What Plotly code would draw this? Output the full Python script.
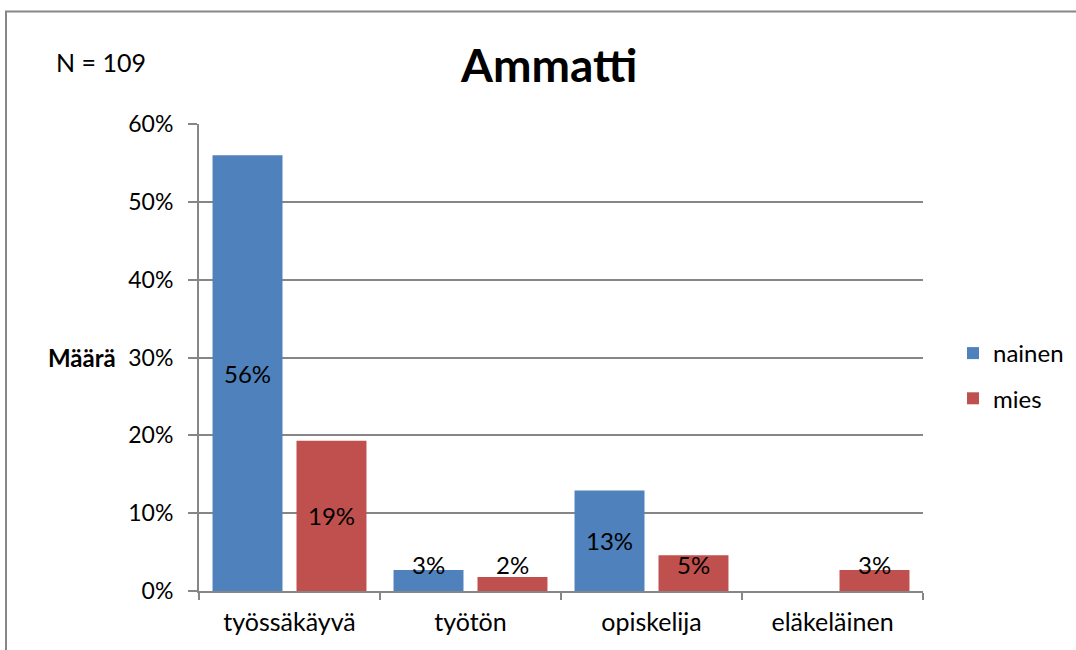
import plotly.graph_objects as go

categories = ["työssäkäyvä", "työtön", "opiskelija", "eläkeläinen"]
nainen = [56.0, 2.7, 12.9, 0.0]
mies = [19.3, 1.8, 4.6, 2.7]
series_names = ["nainen", "mies"]
colors = ["#4F81BD", "#C0504D"]
y_ticks = [0, 10, 20, 30, 40, 50, 60]
y_tick_text = ["0%", "10%", "20%", "30%", "40%", "50%", "60%"]

FONT = "Lato"
W, H = 1076, 650
ML, MR, MT, MB = 199, 153, 124, 59
PW = W - ML - MR
PH = H - MT - MB
BARGAP = 0.072
BARGROUPGAP = 0.167

fig = go.Figure()
for name, vals, col, grp in zip(series_names, [nainen, mies], colors, ["a", "b"]):
    fig.add_trace(go.Bar(
        x=categories, y=vals, name=name, marker=dict(color=col, line=dict(width=0)),
        legendgroup=grp,
    ))

# data labels
cat_px = PW / len(categories)
slot = cat_px * (1 - BARGAP) / 2
annotations = []
for vals, shift in zip([nainen, mies], [-slot / 2, slot / 2]):
    for c, v in zip(categories, vals):
        if v <= 0:
            continue
        annotations.append(dict(
            x=c, y=max(v / 2, 3.35), xref="x", yref="y", xshift=shift,
            text=f"{round(v)}%", showarrow=False,
            font=dict(family=FONT, size=24, color="black"),
        ))

def px_x(p):
    return (p - ML) / PW

def px_y(p):
    return (H - MB - p) / PH

annotations += [
    dict(x=px_x(548), y=px_y(65), xref="paper", yref="paper", text="<b>Ammatti</b>",
         showarrow=False, font=dict(family=FONT, size=46, color="black"), xanchor="center", yanchor="middle"),
    dict(x=px_x(54), y=px_y(62), xref="paper", yref="paper", text="N = 109",
         showarrow=False, font=dict(family=FONT, size=25, color="black"), xanchor="left", yanchor="middle"),
    dict(x=px_x(46), y=px_y(357), xref="paper", yref="paper", text="<b>Määrä</b>",
         showarrow=False, font=dict(family=FONT, size=24, color="black"), xanchor="left", yanchor="middle"),
]

fig.update_layout(
    width=W, height=H,
    margin=dict(l=ML, r=MR, t=MT, b=MB, autoexpand=False),
    paper_bgcolor="white", plot_bgcolor="white",
    barmode="group", bargap=BARGAP, bargroupgap=BARGROUPGAP,
    font=dict(family=FONT, size=25, color="black"),
    showlegend=True,
    legend=dict(x=px_x(953), y=px_y(331), xanchor="left", yanchor="top",
                font=dict(family=FONT, size=24, color="black"),
                traceorder="grouped", tracegroupgap=11, bgcolor="rgba(0,0,0,0)"),
    annotations=annotations,
    shapes=[dict(type="rect", xref="paper", yref="paper",
                 x0=px_x(6), x1=1.4, y0=-0.3, y1=px_y(11.5),
                 line=dict(color="#868686", width=2), fillcolor="rgba(0,0,0,0)", layer="below")],
    hovermode=False,
)
fig.update_yaxes(range=[0, 60], tickvals=y_ticks, ticktext=y_tick_text,
                 showgrid=True, gridcolor="#868686", gridwidth=1.5,
                 showline=True, linecolor="#868686", linewidth=2,
                 ticks="outside", ticklen=9, tickcolor="#868686", tickwidth=1.5,
                 ticklabelstandoff=10, tickfont=dict(family=FONT, size=23, color="black"),
                 zeroline=False, fixedrange=True)
fig.update_xaxes(showgrid=False, showline=True, linecolor="#868686", linewidth=2,
                 ticks="outside", tickson="boundaries", ticklen=7, tickcolor="#868686", tickwidth=1.5,
                 ticklabelstandoff=8, tickfont=dict(family=FONT, size=25, color="black"),
                 fixedrange=True)

fig.write_html("out.html", config={"displayModeBar": False},
               post_script="document.body.style.margin='0';document.body.style.overflow='hidden';")
